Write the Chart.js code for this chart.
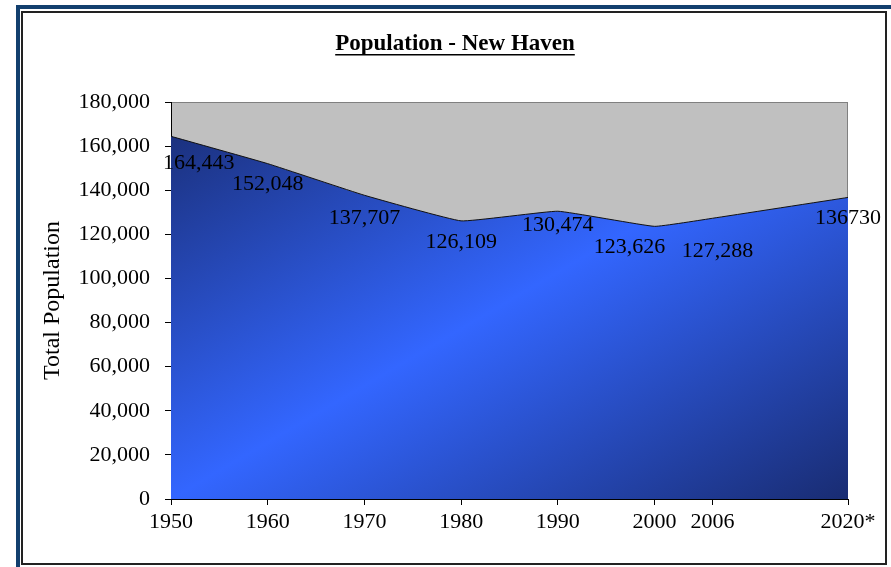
<!DOCTYPE html>
<html>
<head>
<meta charset="utf-8">
<script src="https://cdn.jsdelivr.net/npm/chart.js@4.4.1/dist/chart.umd.min.js"></script>
<style>
  html, body { margin: 0; padding: 0; background: #fff; }
  #wrap { position: relative; width: 891px; height: 567px; }
</style>
</head>
<body>
<div id="wrap"><canvas id="popChart" width="891" height="567"></canvas></div>
<script>
// New Haven population
const years = [1950, 1960, 1970, 1980, 1990, 2000, 2006, 2020];
const population = [164443, 152048, 137707, 126109, 130474, 123626, 127288, 136730];
const valueLabels = ['164,443', '152,048', '137,707', '126,109', '130,474', '123,626', '127,288', '136730'];

const tickYears = [1950, 1960, 1970, 1980, 1990, 2000, 2006, 2020];
const tickLabels = ['1950', '1960', '1970', '1980', '1990', '2000', '2006', '2020*'];

const serif = '"Liberation Serif", "Times New Roman", serif';

// white page, blue outer frame, thin dark inner box, grey plot area
const framePlugin = {
  id: 'frame',
  beforeDraw(chart) {
    const ctx = chart.ctx;
    const a = chart.chartArea;
    ctx.save();
    ctx.fillStyle = '#fff';
    ctx.fillRect(0, 0, chart.width, chart.height);
    ctx.fillStyle = '#123f6e';
    ctx.fillRect(16, 5, chart.width - 16, 4);
    ctx.fillRect(16, 5, 4, chart.height - 5);
    ctx.strokeStyle = '#222';
    ctx.lineWidth = 2;
    ctx.strokeRect(22, 12, 864, 552);
    ctx.fillStyle = '#c0c0c0';
    ctx.fillRect(a.left, a.top, a.right - a.left, a.bottom - a.top);
    ctx.strokeStyle = '#808080';
    ctx.lineWidth = 1;
    ctx.strokeRect(a.left + 0.5, a.top + 0.5, a.right - a.left - 1, a.bottom - a.top - 1);
    ctx.restore();
  }
};

// underlined title
const titlePlugin = {
  id: 'ulTitle',
  afterDraw(chart) {
    const ctx = chart.ctx;
    const text = 'Population - New Haven';
    ctx.save();
    ctx.font = 'bold 23px ' + serif;
    ctx.fillStyle = '#000';
    ctx.textAlign = 'center';
    ctx.textBaseline = 'middle';
    const cx = 455, cy = 44;
    ctx.fillText(text, cx, cy);
    const w = ctx.measureText(text).width;
    ctx.fillRect(cx - w / 2, cy + 10, w, 1.5);
    ctx.restore();
  }
};

// value labels under each point; the original has a few hand-moved labels
const labelNudge = [[0, 6], [0, 0], [0, 2], [0, 0], [0, -7], [-25, 0], [5, 12], [0, 0]];
const labelPlugin = {
  id: 'valueLabels',
  afterDatasetsDraw(chart) {
    const ctx = chart.ctx;
    const meta = chart.getDatasetMeta(0);
    const a = chart.chartArea;
    ctx.save();
    ctx.font = '22px ' + serif;
    ctx.fillStyle = '#000';
    ctx.textAlign = 'center';
    ctx.textBaseline = 'middle';
    meta.data.forEach((pt, i) => {
      const w = ctx.measureText(valueLabels[i]).width;
      const x = Math.max(pt.x, a.left - 8 + w / 2) + labelNudge[i][0];
      ctx.fillText(valueLabels[i], x, pt.y + 21 + labelNudge[i][1]);
    });
    ctx.restore();
  }
};

function areaGradient(context) {
  const chart = context.chart;
  const a = chart.chartArea;
  if (!a) return '#3366ff';
  const w = a.right - a.left, h = a.bottom - a.top;
  const cx = a.left + w / 2, cy = a.top + h / 2;
  const len = Math.hypot(w, h);
  const ux = h / len, uy = w / len;
  const d = (w / 2 * ux + h / 2 * uy);
  const g = chart.ctx.createLinearGradient(cx - d * ux, cy - d * uy, cx + d * ux, cy + d * uy);
  g.addColorStop(0, '#192c72');
  g.addColorStop(0.5, '#3366ff');
  g.addColorStop(1, '#192c72');
  return g;
}

const ctx = document.getElementById('popChart').getContext('2d');
new Chart(ctx, {
  type: 'line',
  data: {
    datasets: [{
      label: 'Population',
      data: years.map((y, i) => ({ x: y, y: population[i] })),
      fill: 'origin',
      backgroundColor: areaGradient,
      borderColor: '#111',
      borderWidth: 1,
      pointRadius: 0,
      tension: 0.1
    }]
  },
  options: {
    responsive: false,
    animation: false,
    layout: { padding: { top: 102, right: 43, bottom: 0, left: 0 } },
    plugins: {
      legend: { display: false },
      tooltip: { enabled: false },
      title: { display: false }
    },
    scales: {
      x: {
        type: 'linear',
        min: 1950,
        max: 2020,
        afterBuildTicks: (scale) => { scale.ticks = tickYears.map(v => ({ value: v })); },
        afterFit: (scale) => { scale.height = 68; },
        grid: { drawOnChartArea: false, drawTicks: true, tickLength: 6, color: '#000' },
        border: { display: true, color: '#000' },
        ticks: {
          autoSkip: false,
          maxRotation: 0,
          padding: 4,
          color: '#000',
          font: { family: serif, size: 22 },
          callback: (v) => tickLabels[tickYears.indexOf(v)]
        }
      },
      y: {
        min: 0,
        max: 180000,
        afterFit: (scale) => { scale.width = 171; },
        grid: { drawOnChartArea: false, drawTicks: true, tickLength: 6, color: '#000' },
        border: { display: true, color: '#000' },
        ticks: {
          stepSize: 20000,
          padding: 15,
          color: '#000',
          font: { family: serif, size: 22 },
          callback: (v) => v.toLocaleString('en-US')
        },
        title: {
          display: true,
          text: 'Total Population',
          color: '#000',
          font: { family: serif, size: 24 },
          padding: { top: 38, bottom: 0 }
        }
      }
    }
  },
  plugins: [framePlugin, titlePlugin, labelPlugin]
});
</script>
</body>
</html>
